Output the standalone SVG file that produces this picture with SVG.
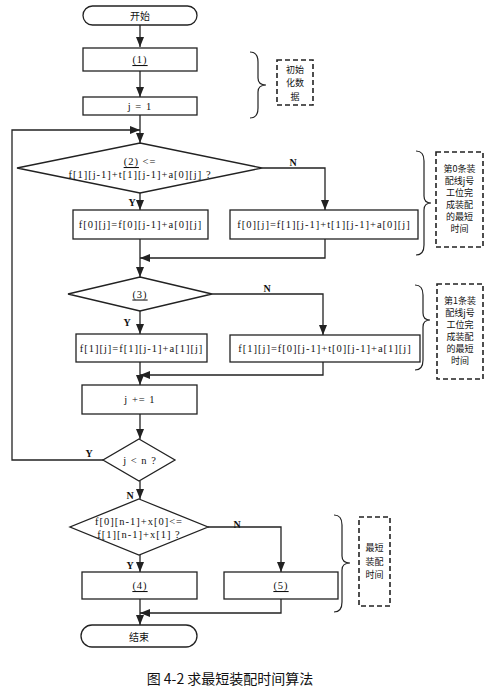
<svg xmlns="http://www.w3.org/2000/svg" width="496" height="696" viewBox="0 0 496 696">
<style>
.bg{fill:#ffffff}
.box{fill:#ffffff;stroke:#222;stroke-width:1.3}
.ln{fill:none;stroke:#222;stroke-width:1.3}
.arr{marker-end:url(#ah)}
.dash{fill:none;stroke:#222;stroke-width:1.6;stroke-dasharray:5,3}
.brace{fill:none;stroke:#222;stroke-width:1.2}
.code{font-family:"Liberation Serif","Noto Sans CJK SC",serif;font-size:10.5px;letter-spacing:1px;fill:#111;text-anchor:middle;dominant-baseline:central}
.u{text-decoration:underline}
.yn{font-family:"Liberation Serif",serif;font-size:10px;font-weight:bold;fill:#111;text-anchor:middle;dominant-baseline:central}
.cn{font-family:"Noto Sans CJK SC",sans-serif;font-size:10px;fill:#111;text-anchor:middle;dominant-baseline:central}
.cs{font-family:"Noto Sans CJK SC",sans-serif;font-size:9px;fill:#111;text-anchor:middle;dominant-baseline:central}
.cm{font-family:"Noto Sans CJK SC",sans-serif;font-size:9.5px;fill:#111;text-anchor:middle;dominant-baseline:central}
.cap{font-family:"Noto Sans CJK SC",sans-serif;font-size:14px;fill:#111;text-anchor:middle;dominant-baseline:central}
</style>
<defs>
<marker id="ah" markerUnits="userSpaceOnUse" markerWidth="10" markerHeight="8" refX="10" refY="4" orient="auto">
<path d="M0,0 L10,4 L0,8 z" fill="#222"/>
</marker>
</defs>
<rect class="bg" x="0" y="0" width="496" height="696"/>

<g id="connectors">
<path class="ln arr" d="M140,25 V47"/>
<path class="ln arr" d="M140,71 V97"/>
<path class="ln arr" d="M140,115 V143"/>
<path class="ln arr" d="M103,460 H12 V130 H140"/>
<path class="ln arr" d="M140,193 V210"/>
<path class="ln arr" d="M262,168 H325 V210"/>
<path class="ln arr" d="M140,239 V277"/>
<path class="ln arr" d="M325,239 V258 H140"/>
<path class="ln arr" d="M140,311 V334"/>
<path class="ln arr" d="M212,294 H323 V335"/>
<path class="ln arr" d="M140,362 V385"/>
<path class="ln arr" d="M323,362 V375 H140"/>
<path class="ln arr" d="M140,414 V439"/>
<path class="ln arr" d="M140,481 V499"/>
<path class="ln arr" d="M140,555 V572"/>
<path class="ln arr" d="M208,527 H281 V572"/>
<path class="ln arr" d="M140,599 V625"/>
<path class="ln arr" d="M281,599 V613 H140"/>
<text class="yn" x="293" y="162">N</text>
<text class="yn" x="132" y="202">Y</text>
<text class="yn" x="267" y="288">N</text>
<text class="yn" x="127" y="322">Y</text>
<text class="yn" x="89" y="453">Y</text>
<text class="yn" x="130" y="495">N</text>
<text class="yn" x="237" y="524">N</text>
<text class="yn" x="130" y="565">Y</text>
</g>

<g id="start">
<rect class="box" x="83" y="6" width="114" height="19" rx="9.5"/>
<text class="cn" x="140" y="15.5">开始</text>
</g>
<g id="init1">
<rect class="box" x="83" y="48" width="114" height="23"/>
<text class="code u" x="140" y="59.5">(1)</text>
</g>
<g id="j1">
<rect class="box" x="83" y="97" width="114" height="18"/>
<text class="code" x="140" y="106">j = 1</text>
</g>
<g id="cond2">
<polygon class="box" points="140,143 262,168 140,193 17,168"/>
<text class="code" x="140" y="161"><tspan class="u">(2)</tspan>  &lt;=</text>
<text class="code" x="140" y="174">f[1][j-1]+t[1][j-1]+a[0][j]  ?</text>
</g>
<g id="f0a">
<rect class="box" x="73" y="210" width="135" height="29"/>
<text class="code" x="140.5" y="224.5">f[0][j]=f[0][j-1]+a[0][j]</text>
</g>
<g id="f0b">
<rect class="box" x="230" y="210" width="188" height="29"/>
<text class="code" x="324" y="224.5">f[0][j]=f[1][j-1]+t[1][j-1]+a[0][j]</text>
</g>
<g id="cond3">
<polygon class="box" points="140,277 212,294 140,311 68,294"/>
<text class="code u" x="140" y="294">(3)</text>
</g>
<g id="f1a">
<rect class="box" x="76" y="334" width="131" height="28"/>
<text class="code" x="141.5" y="348">f[1][j]=f[1][j-1]+a[1][j]</text>
</g>
<g id="f1b">
<rect class="box" x="230" y="335" width="190" height="27"/>
<text class="code" x="325" y="348.5">f[1][j]=f[0][j-1]+t[0][j-1]+a[1][j]</text>
</g>
<g id="jinc">
<rect class="box" x="82" y="385" width="115" height="29"/>
<text class="code" x="140" y="399.5">j  += 1</text>
</g>
<g id="cond4">
<polygon class="box" points="139,439 175,460 139,481 103,460"/>
<text class="code" x="140" y="460">j &lt; n ?</text>
</g>
<g id="cond5">
<polygon class="box" points="139,499 208,527 139,555 70,527"/>
<text class="code" x="139" y="521">f[0][n-1]+x[0]&lt;=</text>
<text class="code" x="139" y="534">f[1][n-1]+x[1]  ?</text>
</g>
<g id="out4">
<rect class="box" x="82" y="572" width="115" height="27"/>
<text class="code u" x="140" y="585.5">(4)</text>
</g>
<g id="out5">
<rect class="box" x="224" y="572" width="114" height="27"/>
<text class="code u" x="281" y="585.5">(5)</text>
</g>
<g id="end">
<rect class="box" x="81" y="625" width="116" height="22" rx="11"/>
<text class="cn" x="139" y="636">结束</text>
</g>

<g id="note1">
<path class="brace" d="M250,52 Q258,52 258,62 V78 Q258,85 266,85 Q258,85 258,92 V108 Q258,118 250,118"/>
<rect class="dash" x="277" y="60" width="36" height="45"/>
<text class="cs" x="295" y="69">初始</text>
<text class="cs" x="295" y="82.5">化数</text>
<text class="cs" x="295" y="96">据</text>
</g>
<g id="note2">
<path class="brace" d="M416,151 Q424,151 424,161 V196 Q424,203 431,203 Q424,203 424,210 V245 Q424,255 416,255"/>
<rect class="dash" x="436" y="152" width="47" height="95"/>
<text class="cs" x="459.5" y="168">第0条装</text>
<text class="cs" x="459.5" y="180">配线j号</text>
<text class="cs" x="459.5" y="192">工位完</text>
<text class="cs" x="459.5" y="204">成装配</text>
<text class="cs" x="459.5" y="216">的最短</text>
<text class="cs" x="459.5" y="228">时间</text>
</g>
<g id="note3">
<path class="brace" d="M415,285 Q423,285 423,295 V313 Q423,320 430,320 Q423,320 423,327 V360 Q423,370 415,370"/>
<rect class="dash" x="437" y="284" width="46" height="95"/>
<text class="cs" x="460" y="300">第1条装</text>
<text class="cs" x="460" y="312">配线j号</text>
<text class="cs" x="460" y="324">工位完</text>
<text class="cs" x="460" y="336">成装配</text>
<text class="cs" x="460" y="348">的最短</text>
<text class="cs" x="460" y="360">时间</text>
</g>
<g id="note4">
<path class="brace" d="M334,515 Q342,515 342,525 V556 Q342,563 350,563 Q342,563 342,570 V602 Q342,612 334,612"/>
<rect class="dash" x="359" y="517" width="31" height="89"/>
<text class="cs" x="374.5" y="547.5">最短</text>
<text class="cs" x="374.5" y="561">装配</text>
<text class="cs" x="374.5" y="574.5">时间</text>
</g>

<g id="caption">
<text class="cap" x="230" y="678">图 4-2 求最短装配时间算法</text>
</g>
</svg>
